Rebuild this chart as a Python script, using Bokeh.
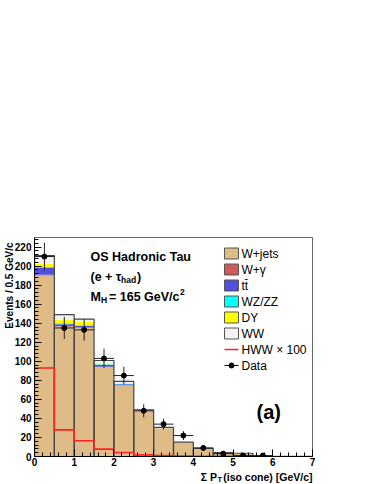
import math
from bokeh.plotting import figure
from bokeh.models import Range1d, FixedTicker, Label
from bokeh.core.properties import value
from bokeh.embed import file_html
from bokeh.resources import INLINE

# ---------------- data ----------------
bin_edges = [0.0, 0.5, 1.0, 1.5, 2.0, 2.5, 3.0, 3.5, 4.0, 4.5, 5.0, 5.5, 6.0, 6.5, 7.0]
w_jets   = [190.0, 136.5, 135.0, 94.0, 74.5, 46.5, 29.0, 14.3, 8.0, 3.6, 3.0, 0.0, 0.0, 0.0]
w_gamma  = [1.0, 0.5, 0.5, 0.3, 0.3, 0.2, 0.1, 0.05, 0.0, 0.0, 0.0, 0.0, 0.0, 0.0]
ttbar    = [7.0, 2.0, 1.5, 2.0, 1.2, 0.5, 0.3, 0.1, 0.1, 0.0, 0.0, 0.0, 0.0, 0.0]
wz_zz    = [1.0, 1.0, 0.8, 0.5, 0.3, 0.2, 0.1, 0.05, 0.0, 0.0, 0.0, 0.0, 0.0, 0.0]
drell_yan = [3.5, 4.0, 3.5, 1.0, 0.7, 0.3, 0.2, 0.1, 0.1, 0.0, 0.0, 0.0, 0.0, 0.0]
ww       = [8.5, 5.0, 3.0, 3.0, 2.0, 1.2, 0.8, 0.4, 0.4, 0.4, 0.4, 0.0, 0.0, 0.0]
hww_x100 = [93.0, 28.0, 16.5, 7.7, 4.2, 1.7, 1.0, 0.5, 0.3, 0.2, 0.1, 0.05, 0.0, 0.0]

data_x   = [0.25, 0.75, 1.25, 1.75, 2.25, 2.75, 3.25, 3.75, 4.25, 4.75, 5.25, 5.75]
data_y   = [210, 135, 133, 103, 85, 48, 34, 22, 9, 3, 1, 1]
data_err = [14.5, 11.6, 11.5, 10.1, 9.2, 6.9, 5.8, 4.7, 3.0, 1.7, 1.0, 1.0]
data_xerr = 0.25

series_names  = ["W+jets", "W+\u03b3", "tt\u0304", "WZ/ZZ", "DY", "WW"]
series_values = [w_jets, w_gamma, ttbar, wz_zz, drell_yan, ww]
series_colors = ["#DFBB87", "#D05A5A", "#5050DC", "#00FFFF", "#FFFF00", "#F2F2F2"]
hww_label  = "HWW \u00d7 100"
data_label = "Data"

x_ticks = [0, 1, 2, 3, 4, 5, 6, 7]
y_ticks = [0, 20, 40, 60, 80, 100, 120, 140, 160, 180, 200, 220]

FONT = "Liberation Sans"
RED = "#FF2020"

# frame geometry in canvas px
X0, X1, Y0, Y1 = 0.0, 7.0, 0.0, 230.0
W, H = 374, 484
FL, FR, FT, FB = 34.0, 312.0, 237.0, 456.0
def dx(px):
    return X0 + (px - FL) / (FR - FL) * (X1 - X0)
def dy(py):
    return Y0 + (FB - py) / (FB - FT) * (Y1 - Y0)

p = figure(width=W, height=H, x_range=Range1d(X0, X1), y_range=Range1d(Y0, Y1),
           output_backend="svg", toolbar_location=None,
           min_border_left=int(FL), min_border_right=int(W - FR),
           min_border_top=int(FT), min_border_bottom=int(H - FB))
p.xgrid.visible = False
p.ygrid.visible = False
p.outline_line_color = "#666666"
p.background_fill_color = "white"
p.border_fill_color = "white"

lefts = bin_edges[:-1]
rights = bin_edges[1:]

# stacked histogram
bottom = [0.0] * len(lefts)
for vals, col in zip(series_values, series_colors):
    top = [b + v for b, v in zip(bottom, vals)]
    p.quad(left=lefts, right=rights, bottom=bottom, top=top,
           fill_color=col, line_color=None)
    bottom = top
total = bottom
nz = [i for i, t in enumerate(total) if t > 0]
p.quad(left=[lefts[i] for i in nz], right=[rights[i] for i in nz],
       bottom=[0.0] * len(nz), top=[total[i] for i in nz],
       fill_color=None, line_color="#444444", line_width=1.2)

# HWW x 100
p.step(x=bin_edges, y=hww_x100 + [hww_x100[-1]], mode="after",
       line_color=RED, line_width=1.6)

# data with error bars
p.segment(x0=data_x, x1=data_x,
          y0=[y - e for y, e in zip(data_y, data_err)],
          y1=[y + e for y, e in zip(data_y, data_err)],
          line_color="#222222", line_width=1)
p.segment(x0=[x - data_xerr for x in data_x], x1=[x + data_xerr for x in data_x],
          y0=data_y, y1=data_y, line_color="#222222", line_width=1)
p.scatter(x=data_x, y=data_y, size=5, color="black")

# ---------------- legend (drawn by hand) ----------------
LG_X0, LG_X1, LG_TX = 224.0, 238.0, 241.0
LG_Y0, LG_DY = 253.0, 16.0
rows_y = [dy(LG_Y0 + LG_DY * k) for k in range(8)]
sw_x = dx((LG_X0 + LG_X1) / 2)
p.rect(x=[sw_x] * 6, y=rows_y[:6], width=LG_X1 - LG_X0, height=11,
       width_units="screen", height_units="screen",
       fill_color=series_colors, line_color="#555555", line_width=1)
p.segment(x0=[dx(LG_X0)], x1=[dx(LG_X1)], y0=[rows_y[6]], y1=[rows_y[6]],
          line_color=RED, line_width=1.6)
p.segment(x0=[dx(LG_X0)], x1=[dx(LG_X1)], y0=[rows_y[7]], y1=[rows_y[7]],
          line_color="black", line_width=1)
p.scatter(x=[sw_x], y=[rows_y[7]], size=5, color="black")
p.text(x=[dx(LG_TX)] * 8, y=rows_y, text=series_names + [hww_label, data_label],
       text_font=value(FONT), text_font_size=value("12px"),
       text_baseline="middle", text_align="left", text_color="black")

# axes
p.xaxis.ticker = FixedTicker(ticks=x_ticks, minor_ticks=[i * 0.2 for i in range(36)])
p.yaxis.ticker = FixedTicker(ticks=y_ticks, minor_ticks=[i * 4 for i in range(58)])
for ax in (p.xaxis[0], p.yaxis[0]):
    ax.major_tick_in = 7
    ax.major_tick_out = 0
    ax.minor_tick_in = 4
    ax.minor_tick_out = 0
    ax.axis_line_color = "black"
    ax.major_tick_line_color = "black"
    ax.minor_tick_line_color = "black"
    ax.major_label_text_font = FONT
    ax.major_label_text_font_style = "bold"
    ax.major_label_text_font_size = "10px"
    ax.major_label_text_color = "black"
p.xaxis.major_label_standoff = 1
p.yaxis.major_label_standoff = 3

def lab(x, y, text, size, bold=True, align="left", baseline="middle", angle=0.0,
        place="center"):
    p.add_layout(Label(x=dx(x), y=dy(y), text=text, text_font=FONT,
                       text_font_size=f"{size}px",
                       text_font_style="bold" if bold else "normal",
                       text_align=align, text_baseline=baseline, angle=angle,
                       text_color="black"), place)

# axis titles (kept in the roomy top panel so they are not clipped by the frame)
lab(9, 242, "Events / 0.5 GeV/c", 10, align="right", angle=math.pi / 2, place="above")
lab(312, 476, "(iso cone) [GeV/c]", 10.5, align="right", place="above")
lab(221.5, 479, "T", 7.5, align="right", place="above")
lab(216.5, 476, "\u03a3 P", 10.5, align="right", place="above")

# annotations inside the frame
lab(90, 256.5, "OS Hadronic Tau", 12.5)
lab(90, 276, "(e + \u03c4", 12.5)
lab(120.5, 279, "had", 8.5)
lab(136.5, 276, ")", 12.5)
lab(90, 296, "M", 12.5)
lab(100.5, 299.5, "H", 8.5)
lab(108.5, 296, "= 165 GeV/c", 12.5)
lab(179.5, 291, "2", 8.5)
lab(256, 411.5, "(a)", 20)

open("out.html", "w").write(file_html(p, INLINE))
